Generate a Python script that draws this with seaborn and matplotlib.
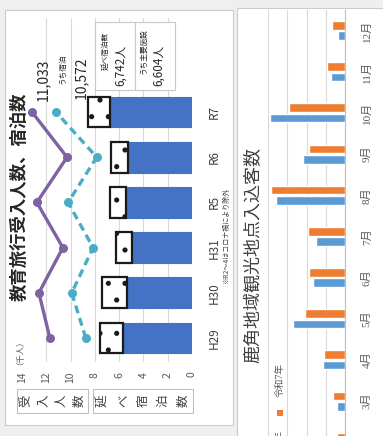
import numpy as np
import pandas as pd
import matplotlib
matplotlib.use("Agg")
import matplotlib.pyplot as plt
from matplotlib.patches import Rectangle
import seaborn as sns

# ---- 教育旅行受入人数、宿泊数 (千人) ----
years = ["H29", "H30", "H31", "R5", "R6", "R7"]
stay_nights = [5.68, 5.35, 4.94, 5.44, 5.27, 6.742]        # 延べ宿泊数
stay_extra = [1.9, 2.1, 1.3, 1.3, 1.4, 1.8]                # 点模様部分
visitors = [10.69, 10.90, 10.44, 10.94, 10.36, 11.033]     # 受入人数
visitors_stay = [10.00, 10.27, 9.86, 10.34, 9.79, 10.572]  # うち宿泊
stay_sub_latest = 6.604
value_ticks = [0, 2, 4, 6, 8, 10, 12, 14]

# ---- 鹿角地域観光地点入込客数 ----
months = ["1月", "2月", "3月", "4月", "5月", "6月",
          "7月", "8月", "9月", "10月", "11月", "12月"]
r6_counts = [0.35, 0.30, 0.43, 1.16, 2.69, 1.68, 1.51, 3.56, 2.17, 3.90, 0.75, 0.35]
r7_counts = [0.45, 0.43, 0.64, 1.09, 2.08, 1.87, 1.91, 3.87, 1.87, 2.92, 0.95, 0.69]
series_names = ["令和6年", "令和7年"]
month_ticks = [0, 1, 2, 3, 4]

sns.set_style("white")
plt.rcParams["font.family"] = ["Noto Sans CJK JP", "DejaVu Sans"]
plt.rcParams["hatch.linewidth"] = 1.3

W, H = 383, 436


def fx(px):
    return px / W


def fy(py):
    return 1 - py / H


fig = plt.figure(figsize=(W / 100, H / 100), dpi=100, facecolor="#efefef")

# panel backgrounds
fig.patches.append(Rectangle((fx(5), fy(425)), fx(233) - fx(5), fy(10) - fy(425),
                             transform=fig.transFigure, facecolor="white",
                             edgecolor="#cccccc", lw=0.8, zorder=-1))
fig.patches.append(Rectangle((fx(237), fy(445)), fx(395) - fx(237), fy(8) - fy(445),
                             transform=fig.transFigure, facecolor="white",
                             edgecolor="#cccccc", lw=0.8, zorder=-1))

# ================= left chart =================
ax = fig.add_axes([fx(22), fy(362), fx(192) - fx(22), fy(18) - fy(362)])
ax.set_facecolor("none")
order = years[::-1]
pos = [order.index(y) for y in years]
df_l = pd.DataFrame({"year": years, "stay": stay_nights})

for v in value_ticks[1:-1]:
    ax.axvline(v, color="#d9d9d9", lw=0.8, zorder=0)

sns.barplot(data=df_l, x="stay", y="year", order=order, orient="h",
            color="#4472C4", saturation=1, width=0.68,
            edgecolor="#4472C4", linewidth=0.8, ax=ax)
ax.barh(pos, stay_extra, left=stay_nights, height=0.68, color="white",
        edgecolor="#1a1a1a", linewidth=1.6, hatch=".", zorder=3)

ax.set_xlim(14, 0)
ax.set_xticks(value_ticks)
ax.set_xticklabels([str(v) for v in value_ticks])
ax.tick_params(axis="x", length=0, pad=7, labelrotation=90, labelsize=7.5,
               labelcolor="#595959")
ax.yaxis.tick_right()
ax.tick_params(axis="y", length=0, pad=11, labelsize=8.5, labelcolor="#404040")
for lab in ax.get_yticklabels():
    lab.set_rotation(90)
    lab.set_va("center")
    lab.set_ha("left")
ax.set_xlabel("")
ax.set_ylabel("")
for s in ax.spines.values():
    s.set_visible(False)

ax2 = ax.twiny()
ax2.set_facecolor("none")
sns.lineplot(x=visitors, y=pos, orient="y", sort=False, estimator=None,
             color="#7F62A3", lw=2.4, marker="o", markersize=6.5,
             markeredgewidth=0, ax=ax2)
sns.lineplot(x=visitors_stay, y=pos, orient="y", sort=False, estimator=None,
             color="#4BACC6", lw=2.4, linestyle=(0, (2.4, 1.5)), marker="o",
             markersize=6.5, markeredgewidth=0, ax=ax2)
ax2.set_xlim(11.225, 7.96)
ax2.set_xticks([])
for s in ax2.spines.values():
    s.set_visible(False)
ax.set_ylim(5.53, -2.08)

ax2.annotate(f"{round(visitors[-1] * 1000):,}", xy=(visitors[-1], pos[-1]),
             xytext=(8, 23), textcoords="offset points", rotation=90,
             ha="center", va="center", fontsize=10, color="#262626")
ax2.annotate("うち宿泊", xy=(visitors_stay[-1], pos[-1]),
             xytext=(4.5, 31), textcoords="offset points", rotation=90,
             ha="center", va="center", fontsize=5.5, color="#262626")
ax2.annotate(f"{round(visitors_stay[-1] * 1000):,}", xy=(visitors_stay[-1], pos[-1]),
             xytext=(18, 25), textcoords="offset points", rotation=90,
             ha="center", va="center", fontsize=10, color="#262626")

# value boxes for the latest year
for x0, x1 in [(95, 135), (135, 175)]:
    fig.patches.append(Rectangle((fx(x0), fy(90)), fx(x1) - fx(x0), fy(22) - fy(90),
                                 transform=fig.transFigure, facecolor="white",
                                 edgecolor="#c8c8c8", lw=0.8, zorder=2))
fig.text(fx(106), fy(51), "延べ宿泊数", rotation=90, ha="center", va="center",
         fontsize=5.5, color="#262626", zorder=3)
fig.text(fx(121), fy(65), f"{round(stay_nights[-1] * 1000):,}人", rotation=90,
         ha="center", va="center", fontsize=8.5, color="#262626", zorder=3)
fig.text(fx(144), fy(51), "うち主要施設", rotation=90, ha="center", va="center",
         fontsize=5.5, color="#262626", zorder=3)
fig.text(fx(159), fy(65), f"{round(stay_sub_latest * 1000):,}人", rotation=90,
         ha="center", va="center", fontsize=8.5, color="#262626", zorder=3)

# titles / axis captions
fig.text(fx(20), fy(197), "教育旅行受入人数、宿泊数", rotation=90, ha="center",
         va="center", fontsize=12.5, fontweight="bold", color="#262626")
fig.text(fx(16), fy(348), "（千人）", rotation=90, ha="center", va="center",
         fontsize=6, color="#595959")
fig.text(fx(226.5), fy(236), "※R2～4はコロナ禍により除外", rotation=90, ha="center",
         va="center", fontsize=5, color="#404040")

for (x0, x1), word in [((17, 88), "受入人数"), ((93, 193), "延べ宿泊数")]:
    fig.patches.append(Rectangle((fx(x0), fy(413)), fx(x1) - fx(x0), fy(389) - fy(413),
                                 transform=fig.transFigure, facecolor="none",
                                 edgecolor="#bfbfbf", lw=0.8, zorder=2))
    step = (x1 - x0) / len(word)
    for i, ch in enumerate(word):
        fig.text(fx(x0 + step * (i + 0.5)), fy(401), ch, rotation=90, ha="center",
                 va="center", fontsize=9, color="#404040")

# ================= right chart =================
axr = fig.add_axes([fx(268), fy(504), fx(345) - fx(268), fy(10) - fy(504)])
axr.set_facecolor("none")
df_r = pd.DataFrame({
    "month": months * 2,
    "count": r6_counts + r7_counts,
    "year": [series_names[0]] * len(months) + [series_names[1]] * len(months),
})
palette = {series_names[0]: "#5B9BD5", series_names[1]: "#ED7D31"}
sns.barplot(data=df_r, x="count", y="month", hue="year", order=months[::-1],
            hue_order=series_names[::-1], palette=palette, orient="h",
            width=0.5, gap=0.15, saturation=1, legend=False, ax=axr)
axr.set_xlim(month_ticks[-1], 0)
axr.set_ylim(len(months) - 0.5, -0.5)
axr.set_xticks(month_ticks)
axr.grid(axis="x", color="#d9d9d9", lw=0.8)
axr.set_axisbelow(True)
axr.tick_params(axis="x", length=0, labelbottom=False)
axr.yaxis.tick_right()
axr.tick_params(axis="y", length=0, pad=12, labelsize=8, labelcolor="#595959")
for lab in axr.get_yticklabels():
    lab.set_rotation(90)
    lab.set_va("center")
    lab.set_ha("left")
    lab.set_family(["Liberation Serif", "Noto Sans CJK JP"])
axr.set_xlabel("")
axr.set_ylabel("")
for name, s in axr.spines.items():
    s.set_visible(name == "right")
axr.spines["right"].set_color("#bfbfbf")
axr.spines["right"].set_linewidth(0.8)

fig.text(fx(254), fy(255), "鹿角地域観光地点入込客数", rotation=90, ha="center",
         va="center", fontsize=13, color="#404040")

# legend
for name, ty, sy in [(series_names[1], 380, 413), (series_names[0], 447, 478)]:
    fig.patches.append(Rectangle((fx(277), fy(sy + 3)), fx(283) - fx(277), fy(sy - 3) - fy(sy + 3),
                                 transform=fig.transFigure, facecolor=palette[name],
                                 edgecolor="none", zorder=3))
    fig.text(fx(280), fy(ty), name, rotation=90, ha="center", va="center",
             fontsize=7, color="#595959",
             family=["Liberation Serif", "Noto Sans CJK JP"])

fig.savefig("out.png", dpi=100, facecolor=fig.get_facecolor())
